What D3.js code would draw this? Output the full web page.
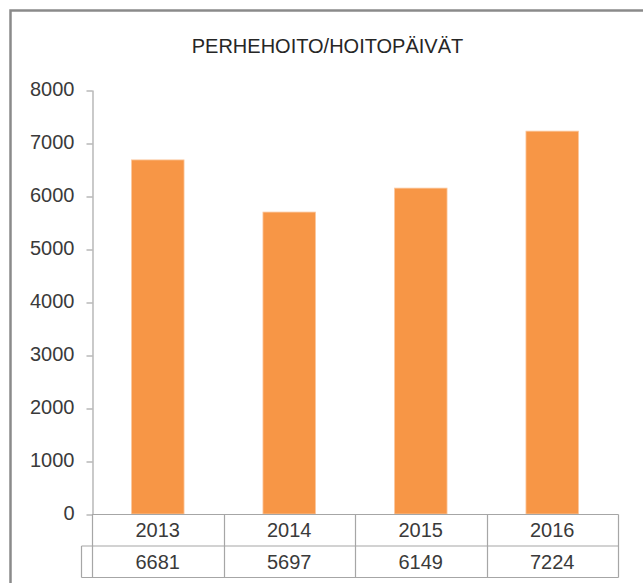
<!DOCTYPE html>
<html>
<head>
<meta charset="utf-8">
<script src="https://cdn.jsdelivr.net/npm/d3@7"></script>
<style>
  html, body { margin: 0; padding: 0; background: #fff; }
  svg { display: block; }
</style>
</head>
<body>
<svg id="chart" width="643" height="583"></svg>
<script>
const title = "PERHEHOITO/HOITOPÄIVÄT";
const categories = ["2013", "2014", "2015", "2016"];
const values = [6681, 5697, 6149, 7224];
const yTicks = [0, 1000, 2000, 3000, 4000, 5000, 6000, 7000, 8000];

const W = 643, H = 583;
const svg = d3.select("#chart");
const font = "'Liberation Sans', Arial, sans-serif";
const textColor = "#3a3a3a";
const gridColor = "#a6a6a6";

// outer border (extends beyond the visible area on right and bottom)
svg.append("rect")
  .attr("x", 10.5).attr("y", 10.5)
  .attr("width", 700).attr("height", 700)
  .attr("fill", "none")
  .attr("stroke", "#8a8a8a")
  .attr("stroke-width", 2.5);

const plot = { left: 92, right: 618, top: 90, bottom: 514 };
const rowH = 31.5;

svg.append("text")
  .attr("x", 327.5).attr("y", 52.5)
  .attr("text-anchor", "middle")
  .attr("font-family", font)
  .attr("font-size", 20)
  .attr("fill", "#262626")
  .text(title);

const x = d3.scaleBand()
  .domain(categories)
  .range([plot.left, plot.right])
  .paddingInner(0.6)
  .paddingOuter(0.3);

const xCell = d3.scaleBand()
  .domain(categories)
  .range([plot.left, plot.right]);

const y = d3.scaleLinear()
  .domain([0, 8000])
  .range([plot.bottom, plot.top]);

// bars
svg.append("g").selectAll("rect")
  .data(categories)
  .join("rect")
  .attr("x", d => x(d))
  .attr("width", x.bandwidth())
  .attr("y", (d, i) => y(values[i]))
  .attr("height", (d, i) => y(0) - y(values[i]))
  .attr("fill", "#f79646")
  .attr("stroke", "#fbc9a1")
  .attr("stroke-width", 0.8);

// y axis
const yAxis = d3.axisLeft(y)
  .tickValues(yTicks)
  .tickFormat(d3.format("d"))
  .tickSize(6)
  .tickSizeOuter(0)
  .tickPadding(12);

const gy = svg.append("g")
  .attr("transform", `translate(${plot.left + 0.5},0)`)
  .call(yAxis);
gy.select(".domain").attr("stroke", gridColor).attr("stroke-width", 1.2);
gy.selectAll(".tick line").attr("stroke", gridColor).attr("stroke-width", 1.2)
  .attr("transform", "translate(0,0.5)");
gy.selectAll(".tick text")
  .attr("font-family", font)
  .attr("font-size", 20)
  .attr("fill", textColor)
  .attr("dy", "0.25em");

// data table
const tbl = svg.append("g")
  .attr("stroke", gridColor)
  .attr("stroke-width", 1.2)
  .attr("fill", "none");

const r1 = plot.bottom + 0.5, r2 = plot.bottom + rowH + 0.5, r3 = plot.bottom + 2 * rowH + 0.5;
const legendLeft = 81.5;

// horizontal lines
tbl.append("line").attr("x1", plot.left).attr("x2", plot.right + 0.5).attr("y1", r1).attr("y2", r1);
tbl.append("line").attr("x1", legendLeft).attr("x2", plot.right + 0.5).attr("y1", r2).attr("y2", r2);
tbl.append("line").attr("x1", legendLeft).attr("x2", plot.right + 0.5).attr("y1", r3).attr("y2", r3);
// left lines
tbl.append("line").attr("x1", plot.left + 0.5).attr("x2", plot.left + 0.5).attr("y1", r1).attr("y2", r3);
tbl.append("line").attr("x1", legendLeft).attr("x2", legendLeft).attr("y1", r2).attr("y2", r3);
// column dividers
tbl.selectAll("line.col")
  .data(categories)
  .join("line")
  .attr("class", "col")
  .attr("x1", d => Math.round(xCell(d) + xCell.bandwidth()) + 0.5)
  .attr("x2", d => Math.round(xCell(d) + xCell.bandwidth()) + 0.5)
  .attr("y1", r1).attr("y2", r3);

// cell texts
svg.append("g").selectAll("text")
  .data(categories)
  .join("text")
  .attr("x", d => xCell(d) + xCell.bandwidth() / 2)
  .attr("y", r1 + rowH / 2 + 7)
  .attr("text-anchor", "middle")
  .attr("font-family", font)
  .attr("font-size", 20)
  .attr("fill", textColor)
  .text(d => d);

svg.append("g").selectAll("text")
  .data(values)
  .join("text")
  .attr("x", (d, i) => xCell(categories[i]) + xCell.bandwidth() / 2)
  .attr("y", r2 + rowH / 2 + 7)
  .attr("text-anchor", "middle")
  .attr("font-family", font)
  .attr("font-size", 20)
  .attr("fill", textColor)
  .text(d => d);
</script>
</body>
</html>
